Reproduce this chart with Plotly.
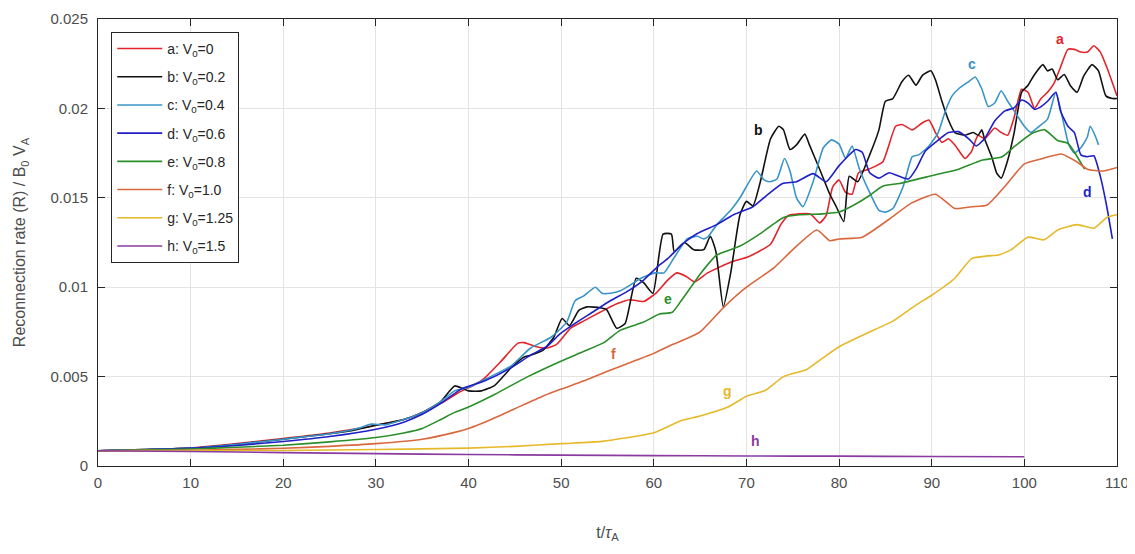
import plotly.graph_objects as go

SCALE = 1e-3  # values below are in units of 1e-3

a_t = [0, 5, 10, 15, 20, 25, 30, 33, 35, 37, 38.9, 40.5, 41.7, 43.5, 45.3, 46, 47.1, 48.5, 49.5, 51, 52.4, 54.2, 56, 57.4, 58.9, 60.3, 61.5, 62.5, 63.5, 64.4, 65.8, 68.3, 70.2, 72.6, 73.7, 74.5, 76.9, 77.9, 78.6, 79.3, 80, 80.7, 81.4, 82.1, 83.2, 84.7, 86.1, 86.8, 87.9, 89, 89.7, 90.4, 91.1, 91.8, 92.5, 93.6, 94.3, 95, 95.7, 96.8, 97.5, 98.2, 98.9, 99.7, 100.4, 101.1, 101.8, 102.5, 103.2, 103.9, 104.7, 105.4, 106.1, 106.8, 107.5, 108.2, 108.9, 110]
a_v = [0.85, 0.92, 1.0, 1.25, 1.54, 1.85, 2.28, 2.6, 3.0, 3.5, 4.1, 4.5, 4.9, 5.85, 6.86, 6.9, 6.7, 6.6, 6.8, 7.7, 8.1, 8.6, 9.07, 9.3, 9.2, 9.7, 10.4, 10.8, 10.6, 10.3, 10.8, 11.4, 11.7, 12.4, 13.5, 14.0, 14.1, 13.6, 14.0, 15.6, 16.0, 15.3, 15.2, 16.4, 16.6, 17.0, 19.0, 19.1, 18.8, 19.2, 19.35, 18.65, 18.1, 18.3, 17.95, 17.2, 17.6, 18.5, 18.3, 18.9, 18.65, 18.5, 19.5, 21.07, 20.9, 20.0, 20.55, 20.9, 21.4, 22.3, 23.3, 23.3, 23.15, 23.15, 23.5, 23.15, 22.3, 20.7]

b_t = [0, 5, 10, 15, 20, 25, 28, 30, 33, 35, 37, 38.5, 40, 41.4, 42.8, 44.6, 46, 46.7, 48.1, 49.2, 50.1, 50.9, 51.9, 52.8, 54.2, 54.9, 56, 56.9, 58.1, 58.9, 59.9, 61, 61.9, 62.2, 63.3, 64.3, 65.4, 66.1, 66.7, 67.5, 68.3, 69.3, 70, 70.7, 71.5, 72.6, 73.5, 74, 74.7, 75.4, 76.3, 76.8, 77.9, 79, 79.7, 80.5, 81.1, 82, 83.3, 84.3, 85, 85.8, 86.8, 87.5, 88.3, 89, 89.9, 90.4, 91.1, 91.8, 92.5, 93.6, 94.5, 95, 95.4, 95.7, 96.5, 97, 97.5, 98.2, 98.9, 99.7, 100.4, 101.1, 102, 102.5, 103, 103.6, 104.3, 105, 105.7, 106.4, 107.3, 108, 108.8, 109.5, 110]
b_v = [0.85, 0.92, 1.0, 1.22, 1.5, 1.8, 2.05, 2.28, 2.6, 2.98, 3.6, 4.48, 4.2, 4.2, 4.5, 5.5, 6.1, 6.2, 6.5, 7.2, 8.25, 7.85, 8.7, 8.9, 8.85, 8.75, 7.7, 7.97, 10.5, 10.25, 9.66, 12.97, 12.97, 12.0, 12.5, 12.1, 12.1, 12.85, 12.0, 8.9, 10.8, 14.05, 14.8, 14.55, 15.9, 18.3, 19.0, 18.8, 17.7, 17.96, 18.56, 17.96, 16.6, 15.2, 14.5, 13.67, 16.2, 15.9, 17.4, 18.8, 20.4, 20.55, 21.5, 21.85, 21.3, 21.85, 22.1, 21.6, 20.4, 19.35, 18.65, 18.5, 18.65, 18.5, 18.8, 18.3, 17.25, 16.4, 16.1, 17.1, 18.65, 20.9, 21.3, 21.9, 22.45, 22.1, 22.2, 21.6, 21.9, 21.25, 20.9, 21.8, 22.45, 22.1, 20.7, 20.55, 20.55]

c_t = [0, 5, 10, 15, 20, 25, 28, 29.5, 31, 33, 35, 37, 38.5, 40, 42, 44.6, 46.7, 48.9, 50.6, 51.5, 52.4, 53.7, 54.4, 55.3, 56.4, 57.4, 58.6, 60.1, 61.1, 62.2, 63.6, 64.7, 65.4, 65.9, 66.8, 68.3, 69.3, 71.1, 71.9, 72.5, 73.3, 74.1, 74.7, 75.4, 76.1, 77.2, 78.3, 79.2, 80, 80.7, 81.4, 82.2, 83.3, 84.3, 85, 85.8, 86.9, 87.9, 88.6, 89.7, 90.7, 91.5, 92.2, 92.9, 94, 94.7, 95.4, 96.1, 96.8, 97.5, 98.2, 98.9, 100, 100.7, 101.6, 102.5, 103.4, 104.1, 104.8, 105.4, 106.1, 106.8, 107.1, 107.7, 108]
c_v = [0.85, 0.92, 1.0, 1.22, 1.5, 1.8, 2.1, 2.34, 2.3, 2.6, 2.98, 3.6, 4.2, 4.4, 4.9, 5.6, 6.6, 7.2, 8.05, 9.24, 9.5, 10.0, 9.66, 9.66, 9.8, 10.1, 10.5, 10.8, 10.8, 11.66, 12.7, 12.85, 12.7, 12.85, 13.5, 14.3, 15.0, 16.5, 16.0, 15.9, 16.05, 17.2, 16.5, 15.0, 14.5, 15.9, 17.8, 18.24, 18.0, 17.2, 17.9, 16.6, 15.3, 14.3, 14.2, 14.4, 15.6, 17.3, 17.4, 17.9, 18.65, 19.9, 20.7, 21.1, 21.5, 21.76, 21.1, 20.1, 20.3, 20.99, 20.4, 19.86, 19.0, 18.65, 19.0, 19.4, 20.9, 19.5, 17.96, 17.5, 17.8, 18.4, 19.0, 18.4, 17.96]

d_t = [0, 5, 10, 15, 20, 25, 30, 33, 35, 37, 39.2, 41.7, 44.6, 46.7, 48.5, 49.9, 51.7, 53.5, 55.3, 57.1, 58.9, 60.3, 61.5, 63.3, 64.7, 66.8, 68.6, 70.7, 72.1, 73.9, 75.4, 77.2, 78.6, 80, 81.8, 82.5, 83.3, 84.3, 85.4, 86.5, 87.5, 88.3, 89.3, 90.4, 91.8, 92.9, 94, 94.8, 95.7, 96.8, 97.9, 98.9, 99.7, 100.4, 101.1, 101.8, 102.5, 103.4, 103.9, 104.7, 105.4, 106.1, 106.8, 107.5, 108.2, 108.9, 109.5]
d_v = [0.85, 0.9, 0.99, 1.15, 1.37, 1.65, 2.06, 2.45, 2.89, 3.5, 4.3, 4.75, 5.5, 6.2, 6.7, 7.4, 8.05, 8.64, 9.24, 9.75, 10.4, 11.1, 11.6, 12.5, 13.0, 13.5, 14.05, 14.5, 15.1, 15.8, 15.9, 16.35, 15.9, 16.8, 17.7, 17.55, 16.4, 16.1, 16.4, 16.2, 16.05, 16.6, 17.6, 18.1, 18.65, 18.7, 18.3, 17.9, 18.3, 19.3, 19.86, 20.03, 20.47, 20.3, 19.95, 20.1, 20.4, 20.9, 19.86, 19.0, 18.65, 17.4, 17.3, 17.35, 16.2, 14.5, 12.7]

e_t = [0, 5, 10, 15, 20, 25, 30, 33, 35, 37, 38.5, 40, 42.8, 46.4, 49.9, 52.4, 54.6, 56.4, 58.9, 60.6, 62, 62.9, 65.1, 66.8, 69.3, 71.5, 74, 75.7, 78.2, 80, 81.8, 83.2, 84.7, 86.5, 90.1, 92.9, 95.4, 97.6, 99, 100.8, 102.2, 103.6, 104.7, 106.5]
e_v = [0.85, 0.9, 0.95, 1.05, 1.16, 1.35, 1.59, 1.85, 2.1, 2.6, 3.0, 3.3, 4.0, 5.0, 5.85, 6.4, 6.9, 7.6, 8.05, 8.5, 8.6, 9.2, 10.8, 11.8, 12.3, 13.0, 13.9, 14.05, 14.1, 14.2, 14.65, 15.1, 15.65, 15.8, 16.25, 16.6, 17.1, 17.3, 17.9, 18.6, 18.8, 18.2, 18.05, 16.6]

f_t = [0, 5, 10, 15, 20, 25, 30, 35, 38.5, 40, 42, 45, 48, 50, 52.4, 55, 58, 60, 62, 63, 65, 67.6, 70, 73, 75, 77.6, 79, 80, 82.5, 85.4, 87.8, 90.4, 92.5, 94.3, 96, 98, 100, 102, 104, 105.7, 106.8, 108.5, 110]
f_v = [0.85, 0.86, 0.88, 0.93, 0.99, 1.1, 1.25, 1.5, 1.88, 2.1, 2.5, 3.2, 3.9, 4.3, 4.75, 5.3, 5.9, 6.3, 6.8, 7.0, 7.5, 8.9, 10.0, 11.1, 12.1, 13.2, 12.6, 12.7, 12.8, 13.8, 14.7, 15.2, 14.4, 14.5, 14.6, 15.7, 16.9, 17.2, 17.45, 17.0, 16.6, 16.5, 16.7]

g_t = [0, 10, 20, 30, 40, 45, 50, 54.4, 60, 63, 65, 68, 70, 72, 74, 76.5, 78, 80, 82.9, 85.8, 88.3, 90, 92.5, 94.3, 96, 97.2, 98.6, 100.4, 102.1, 103.6, 105.7, 107.5, 108.9, 110]
g_v = [0.85, 0.86, 0.87, 0.92, 1.0, 1.1, 1.25, 1.38, 1.86, 2.55, 2.8, 3.3, 3.9, 4.22, 5.0, 5.4, 5.95, 6.67, 7.4, 8.1, 9.0, 9.55, 10.5, 11.6, 11.75, 11.8, 12.1, 12.8, 12.65, 13.2, 13.5, 13.3, 13.9, 14.05]

h_t = [0, 10, 20, 30, 40, 50, 60, 70, 80, 90, 100]
h_v = [0.85, 0.81, 0.75, 0.69, 0.64, 0.61, 0.58, 0.56, 0.55, 0.53, 0.52]

names = ["a: V<sub>0</sub>=0", "b: V<sub>0</sub>=0.2", "c: V<sub>0</sub>=0.4", "d: V<sub>0</sub>=0.6",
         "e: V<sub>0</sub>=0.8", "f: V<sub>0</sub>=1.0", "g: V<sub>0</sub>=1.25", "h: V<sub>0</sub>=1.5"]
colors = ["#e3242b", "#111111", "#3a94c8", "#1f1fc8", "#2a8f2a", "#d9683f", "#e6b92a", "#8a3aa0"]
letters = ["a", "b", "c", "d", "e", "f", "g", "h"]
label_t = [103.8, 71.3, 94.3, 106.8, 61.5, 55.7, 67.9, 71.0]
label_v = [23.9, 18.8, 22.5, 15.3, 9.36, 6.27, 4.17, 1.38]

series = [(a_t, a_v), (b_t, b_v), (c_t, c_v), (d_t, d_v), (e_t, e_v), (f_t, f_v), (g_t, g_v), (h_t, h_v)]

FONT = "Liberation Sans, Arial"

fig = go.Figure()
for i, (t, v) in enumerate(series):
    fig.add_trace(go.Scatter(
        x=t, y=[val * SCALE for val in v], mode="lines", name=names[i],
        legendgroup=letters[i],
        line=dict(color=colors[i], width=1.6, shape="spline", smoothing=0.5),
    ))

for i in range(8):
    fig.add_annotation(x=label_t[i], y=label_v[i] * SCALE, text="<b>" + letters[i] + "</b>",
                       showarrow=False, font=dict(color=colors[i], size=14, family=FONT))

axis_common = dict(
    showline=True, linecolor="#262626", linewidth=1, mirror="ticks",
    ticks="inside", ticklen=7, tickcolor="#262626",
    showgrid=True, gridcolor="#e3e3e3", gridwidth=1, zeroline=False,
    automargin=False,
    tickfont=dict(size=15, color="#4d4d4d", family=FONT),
)

fig.update_xaxes(range=[0, 110], tickvals=[0, 10, 20, 30, 40, 50, 60, 70, 80, 90, 100, 110],
                 ticklabelstandoff=3,
                 title=dict(text="t/<i>τ</i><sub>A</sub>", font=dict(size=16, color="#4d4d4d", family=FONT), standoff=36),
                 **axis_common)
fig.update_yaxes(range=[0, 0.025], tickvals=[0, 0.005, 0.01, 0.015, 0.02, 0.025],
                 ticktext=["0", "0.005", "0.01", "0.015", "0.02", "0.025"],
                 ticklabelstandoff=6,
                 title=dict(text="Reconnection rate (R) / B<sub>0</sub> V<sub>A</sub>", font=dict(size=16, color="#4d4d4d", family=FONT), standoff=20),
                 **axis_common)

fig.update_layout(
    width=1135, height=554,
    margin=dict(l=90, r=26, t=11, b=96),
    paper_bgcolor="white", plot_bgcolor="white",
    legend=dict(x=0.013, y=0.971, xanchor="left", yanchor="top",
                bgcolor="white", bordercolor="#262626", borderwidth=1,
                font=dict(size=14, color="#262626", family=FONT),
                itemwidth=45, tracegroupgap=7, traceorder="grouped"),
    showlegend=True,
)

fig.write_html("out.html")
